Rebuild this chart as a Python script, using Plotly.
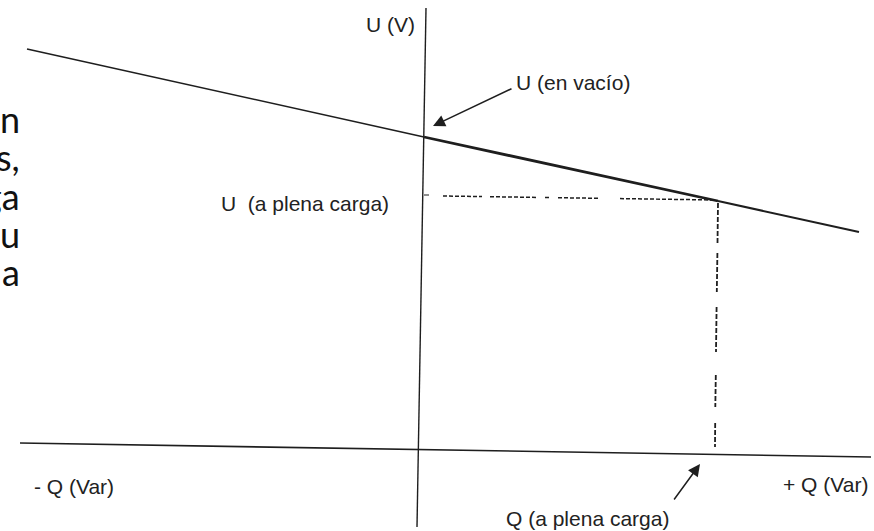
import plotly.graph_objects as go

# Diagram coordinates: Q (horizontal) and U (vertical), origin at axes crossing
Q_axis_h = [-398, 453]
U_axis_h = [6, -8]
Q_axis_v = [8, -1]
U_axis_v = [441, -78]

# Load characteristic U(Q)
Q_line_left = [-391, 6]
U_line_left = [400, 312]
Q_line_mid = [6, 300]
U_line_mid = [312, 248]
Q_line_right = [300, 441]
U_line_right = [248, 217]

# Horizontal dashed guide (U at full load), broken segments
Q_hdash = [[25, 64], [72, 119], [127, 132], [140, 180], [202, 298]]
U_hdash = [[253, 252.4], [252.3, 251.6], [251.5, 251.4], [251.3, 250.7], [250.4, 249]]
Q_htick = [6, 11]
U_htick = [254, 254]

# Vertical dashed guide (Q at full load), broken segments
Q_vdash = [[300, 299.5], [299.4, 298.8], [298.6, 298], [297.8, 297.3], [297.2, 297]]
U_vdash = [[246, 206], [196, 157], [142, 97], [74, 42], [26, 2]]

# Labels
labels = ["U (V)", "U (en vacío)", "U\u00a0 (a plena carga)", "- Q (Var)", "+ Q (Var)", "Q (a plena carga)"]
label_Q = [-54, 96, -199, -386, 363, 86]
label_U = [425, 367, 246, -37, -35, -69]

# Arrows (tail -> tip)
arrow_tail_Q = [95, 255]
arrow_tail_U = [361, -52]
arrow_tip_Q = [15, 282]
arrow_tip_U = [323, -15]

# Slide text fragments clipped at left edge
frag_text = ["n", "s,", "ga", "u", "a"]
frag_U = [330, 292, 253, 215, 177]

INK = "#1e1e1e"
fig = go.Figure()

def seg(qs, us, width, dash=None):
    fig.add_trace(go.Scatter(x=qs, y=us, mode="lines",
                             line=dict(color=INK, width=width, dash=dash),
                             hoverinfo="skip", showlegend=False))

seg(Q_axis_h, U_axis_h, 1.6)
seg(Q_axis_v, U_axis_v, 1.4)
seg(Q_line_left, U_line_left, 1.5)
seg(Q_line_mid, U_line_mid, 2.8)
seg(Q_line_right, U_line_right, 2.0)
for qs, us in zip(Q_hdash, U_hdash):
    seg(qs, us, 1.5, "4px,2px")
seg(Q_htick, U_htick, 1.0)
for qs, us in zip(Q_vdash, U_vdash):
    seg(qs, us, 1.8, "5px,2px")

for t, q, u in zip(labels, label_Q, label_U):
    fig.add_annotation(x=q, y=u, text=t, showarrow=False, xanchor="left", yanchor="middle",
                       font=dict(family="Liberation Sans, Arial, sans-serif", size=21, color="#222222"))

for tq, tu, hq, hu in zip(arrow_tail_Q, arrow_tail_U, arrow_tip_Q, arrow_tip_U):
    fig.add_annotation(x=hq, y=hu, ax=tq, ay=tu, axref="x", ayref="y", xref="x", yref="y",
                       text="", showarrow=True, arrowhead=2, arrowsize=1.6, arrowwidth=1.5,
                       arrowcolor=INK, standoff=0, startstandoff=0)

for t, u in zip(frag_text, frag_U):
    fig.add_annotation(x=-396, y=u, text=t, showarrow=False, xanchor="right", yanchor="middle",
                       font=dict(family="Lato, Noto Sans, sans-serif", size=36, color="#111111"))

fig.update_layout(
    width=874, height=531,
    margin=dict(l=0, r=0, t=0, b=0),
    paper_bgcolor="white", plot_bgcolor="white",
    xaxis=dict(range=[-418, 456], visible=False, fixedrange=True),
    yaxis=dict(range=[-82, 449], visible=False, fixedrange=True),
)

fig.write_html("out.html", config={"displayModeBar": False},
               post_script="document.body.style.margin='0';document.body.style.overflow='hidden';")
